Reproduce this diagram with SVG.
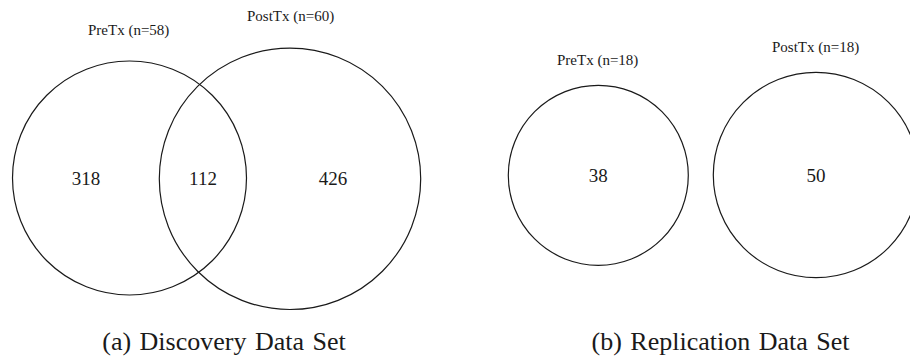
<svg xmlns="http://www.w3.org/2000/svg" width="910" height="360" viewBox="0 0 910 360">
<style>
.c{fill:none;stroke:#1a1a1a;stroke-width:1.2}
text{font-family:'Liberation Serif','Times New Roman',serif;fill:#1a1a1a}
.lab{font-size:15px}
.num{font-size:19px;text-anchor:middle}
.cap{font-size:26px;text-anchor:middle;word-spacing:2px}
</style>
<rect width="910" height="360" fill="#fff"/>
<g id="pre-a">
<circle class="c" cx="129.5" cy="178" r="117"/>
<text class="lab" x="88" y="35" font-family="Liberation Serif, serif">PreTx (n=58)</text>
<text class="num" x="86" y="185">318</text>
</g>
<g id="post-a">
<circle class="c" cx="290" cy="178.8" r="130.7"/>
<text class="lab" x="247" y="21">PostTx (n=60)</text>
<text class="num" x="333" y="185">426</text>
</g>
<g id="overlap-a">
<text class="num" x="203" y="185">112</text>
</g>
<g id="pre-b">
<circle class="c" cx="598.3" cy="175.3" r="90"/>
<text class="lab" x="557" y="65">PreTx (n=18)</text>
<text class="num" x="598.3" y="182">38</text>
</g>
<g id="post-b">
<circle class="c" cx="816" cy="175" r="102.7"/>
<text class="lab" x="772" y="52">PostTx (n=18)</text>
<text class="num" x="816" y="182">50</text>
</g>
<g id="connectors"></g>
<text class="cap" x="224" y="350">(a) Discovery Data Set</text>
<text class="cap" x="720.5" y="350">(b) Replication Data Set</text>
</svg>
